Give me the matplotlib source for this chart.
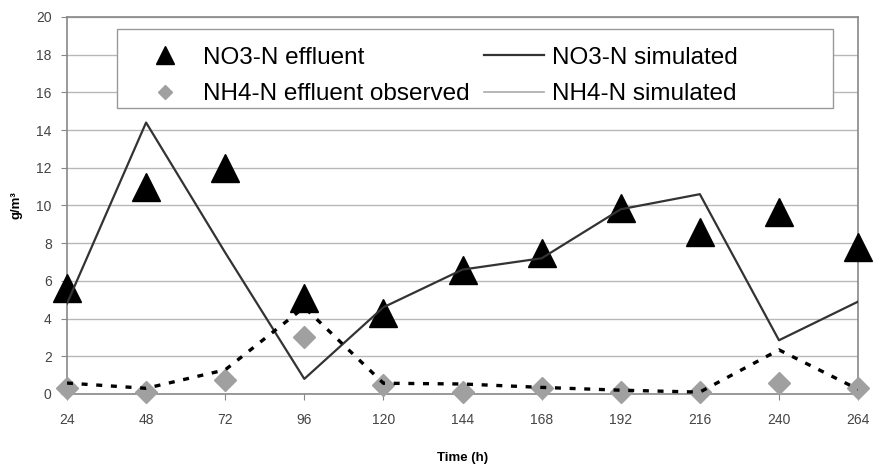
import numpy as np
import matplotlib
matplotlib.use("Agg")
import matplotlib.pyplot as plt
from matplotlib.patches import Rectangle

plt.rcParams["font.family"] = ["Liberation Sans", "DejaVu Sans"]

hours = [24, 48, 72, 96, 120, 144, 168, 192, 216, 240, 264]
no3_obs = [5.6, 11.0, 12.0, 5.1, 4.3, 6.6, 7.5, 9.85, 8.6, 9.65, 7.8]
no3_sim = [4.8, 14.4, 7.5, 0.8, 4.6, 6.6, 7.2, 9.8, 10.6, 2.85, 4.9]
nh4_obs = [0.3, 0.1, 0.75, 3.0, 0.45, 0.08, 0.3, 0.12, 0.12, 0.57, 0.3]
nh4_sim = [0.58, 0.3, 1.28, 4.6, 0.57, 0.53, 0.35, 0.2, 0.1, 2.34, 0.25]

fig = plt.figure(figsize=(8.8, 4.72), dpi=100)
ax = fig.add_axes([0.0761, 0.1653, 0.899, 0.7987])

ax.plot(hours, no3_obs, "^", color="black", ms=20, ls="none",
        label="NO3-N effluent", zorder=4, clip_on=False)
ax.plot(hours, nh4_obs, "D", color="#a0a0a0", ms=11, ls="none",
        label="NH4-N effluent observed", zorder=3, clip_on=False)
ax.plot(hours, no3_sim, "-", color="#333333", lw=1.6,
        label="NO3-N simulated", zorder=5)
ax.plot(hours, nh4_sim, color="black", lw=2.4, dashes=(1.8, 2.6),
        label="NH4-N simulated", zorder=5)

ax.set_xlim(24, 264)
ax.set_ylim(0, 20)
ax.set_xticks(hours)
ax.set_yticks(np.arange(0, 21, 2))
ax.grid(axis="y", color="#b8b8b8", lw=1)
ax.set_axisbelow(True)
for s in ax.spines.values():
    s.set_color("#888888")
    s.set_linewidth(1.2)
ax.tick_params(labelsize=10, colors="#444444", length=4, color="#888888")
ax.tick_params(axis="x", pad=10)
ax.tick_params(axis="y", pad=7)
ax.set_xlabel("Time (h)", fontsize=9.5, fontweight="bold", labelpad=18)
ax.set_ylabel("g/m³", fontsize=9.5, fontweight="bold", labelpad=10)

# legend box (wider than its content, as in the original)
box = Rectangle((0.0632, 0.758), 0.905, 0.21, transform=ax.transAxes,
                facecolor="white", edgecolor="#999999", lw=1.0, zorder=6)
ax.add_patch(box)

leg = ax.legend(ncol=2, loc="upper left", bbox_to_anchor=(0.0632, 0.968),
                fontsize=17.5, frameon=False,
                handlelength=2.5, handletextpad=0.3, columnspacing=0.6,
                labelspacing=0.6, borderpad=0.22, markerscale=0.65)
leg.set_zorder(7)
leg.get_lines()[3].set_color("#aaaaaa")
leg.get_lines()[3].set_linewidth(1.2)
leg.get_lines()[3].set_linestyle("-")

fig.savefig("out.png", dpi=100)
